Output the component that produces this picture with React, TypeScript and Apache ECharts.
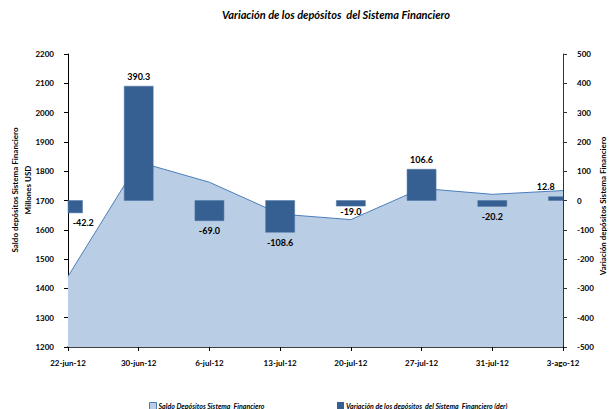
import React, { useEffect, useRef } from "react";
import * as echarts from "echarts";

const categories = ["22-jun-12", "30-jun-12", "6-jul-12", "13-jul-12", "20-jul-12", "27-jul-12", "31-jul-12", "3-ago-12"];
const saldo = [1441, 1831.3, 1762.3, 1653.7, 1634.7, 1741.3, 1721.1, 1733.9];
const variacion = [-42.2, 390.3, -69.0, -108.6, -19.0, 106.6, -20.2, 12.8];
const leftTicks = { min: 1200, max: 2200, interval: 100 };
const rightTicks = { min: -500, max: 500, interval: 100 };
const titleText = "Variación de los depósitos  del Sistema Financiero";
const seriesNames = ["Saldo Depósitos Sistema  Financiero", "Variación de los depósitos  del Sistema  Financiero (der)"];
const leftAxisName = "Saldo depósitos Sistema Financiero\nMillones USD";
const rightAxisName = "Variación depósitos Sistema Financiero";

const FONT = "Lato, 'Open Sans', sans-serif";

export default function App() {
  const ref = useRef<HTMLDivElement>(null);
  useEffect(() => {
    if (!ref.current) return;
    document.body.style.margin = "0";
    const chart = echarts.init(ref.current, null, { renderer: "svg" });
    const labelOffsets: number[][] = [[8, 0], [0, 0], [0, 0], [0, 0], [0, -4], [0, 0], [0, 0], [-10, 0]];
    const barWidth = 29;
    const barData = variacion.map((v, i) => [i, v]);

    const renderBar = (params: any, api: any) => {
      const i = api.value(0);
      const v = api.value(1);
      const p0 = api.coord([i, 0]);
      const p1 = api.coord([i, v]);
      const rect = {
        x: p0[0] - barWidth / 2,
        y: Math.min(p0[1], p1[1]),
        width: barWidth,
        height: Math.abs(p1[1] - p0[1]),
      };
      const cs = params.coordSys;
      const shape = echarts.graphic.clipRectByRect(rect, { x: cs.x, y: cs.y, width: cs.width, height: cs.height });
      if (!shape) return null;
      return {
        type: "rect",
        shape,
        style: { fill: "#376092", stroke: "#4a72a6", lineWidth: 0.5 },
        textContent: {
          style: {
            text: Number(v).toFixed(1),
            fontFamily: FONT,
            fontSize: 9,
            fontWeight: "bold",
            fill: "#000",
          },
        },
        textConfig: {
          position: v < 0 ? "bottom" : "top",
          distance: 5,
          offset: labelOffsets[params.dataIndex],
        },
      };
    };

    chart.setOption({
      animation: false,
      backgroundColor: "#ffffff",
      textStyle: { fontFamily: FONT },
      title: {
        text: titleText,
        left: 217,
        top: 4,
        textStyle: { fontFamily: FONT, fontSize: 11, fontWeight: "bold", fontStyle: "italic", color: "#000" },
      },
      grid: { left: 68, right: 47, top: 54, bottom: 62, containLabel: false },
      legend: [
        {
          data: [{ name: seriesNames[0], icon: "rect", itemStyle: { color: "#b9cde5", borderColor: "#4a7ebb", borderWidth: 1 } }],
          left: 144,
          top: 397,
          itemWidth: 7,
          itemHeight: 7,
          textStyle: { fontFamily: FONT, fontSize: 7, fontWeight: "bold", fontStyle: "italic", color: "#000", padding: [0, 0, 0, -3] },
        },
        {
          data: [{ name: seriesNames[1], icon: "rect", itemStyle: { color: "#376092" } }],
          left: 332,
          top: 397,
          itemWidth: 7,
          itemHeight: 7,
          textStyle: { fontFamily: FONT, fontSize: 7, fontWeight: "bold", fontStyle: "italic", color: "#000", padding: [0, 0, 0, -3] },
        },
      ],
      xAxis: {
        type: "category",
        data: categories,
        boundaryGap: false,
        axisLine: { onZero: false, lineStyle: { color: "#000", width: 1.5 } },
        axisTick: { show: true, length: 4, lineStyle: { color: "#000" } },
        axisLabel: { margin: 12, fontFamily: FONT, fontSize: 8, fontWeight: "bold", color: "#000", interval: 0 },
      },
      yAxis: [
        {
          type: "value",
          min: leftTicks.min,
          max: leftTicks.max,
          interval: leftTicks.interval,
          position: "left",
          axisLine: { show: true, lineStyle: { color: "#000" } },
          axisTick: { show: true, length: 4, lineStyle: { color: "#000" } },
          splitLine: { show: false },
          axisLabel: { margin: 14, fontFamily: FONT, fontSize: 8, fontWeight: "bold", color: "#000", formatter: (v: number) => String(v) },
        },
        {
          type: "value",
          min: rightTicks.min,
          max: rightTicks.max,
          interval: rightTicks.interval,
          position: "right",
          axisLine: { show: true, lineStyle: { color: "#333" } },
          axisTick: { show: true, length: 4, lineStyle: { color: "#333" } },
          splitLine: { show: false },
          axisLabel: { margin: 14, fontFamily: FONT, fontSize: 8, fontWeight: "bold", color: "#000", formatter: (v: number) => String(v) },
        },
      ],
      graphic: [
        {
          type: "text",
          x: 21,
          y: 190,
          rotation: Math.PI / 2,
          style: {
            text: leftAxisName,
            fontFamily: FONT,
            fontSize: 8,
            fontWeight: "bold",
            fill: "#000",
            align: "center",
            verticalAlign: "middle",
            lineHeight: 13,
          },
        },
        {
          type: "text",
          x: 603,
          y: 206,
          rotation: Math.PI / 2,
          style: {
            text: rightAxisName,
            fontFamily: FONT,
            fontSize: 8,
            fontWeight: "bold",
            fill: "#000",
            align: "center",
            verticalAlign: "middle",
          },
        },
      ],
      series: [
        {
          name: seriesNames[0],
          type: "line",
          yAxisIndex: 0,
          data: saldo,
          symbol: "none",
          lineStyle: { color: "#4a7ebb", width: 1 },
          itemStyle: { color: "#b9cde5" },
          areaStyle: { color: "#b9cde5", opacity: 1 },
          z: 1,
        },
        {
          name: seriesNames[1],
          type: "custom",
          yAxisIndex: 1,
          data: barData,
          encode: { x: 0, y: 1 },
          renderItem: renderBar,
          itemStyle: { color: "#376092" },
          z: 2,
        },
      ],
    });
    return () => chart.dispose();
  }, []);
  return <div ref={ref} style={{ width: 610, height: 409 }} />;
}
